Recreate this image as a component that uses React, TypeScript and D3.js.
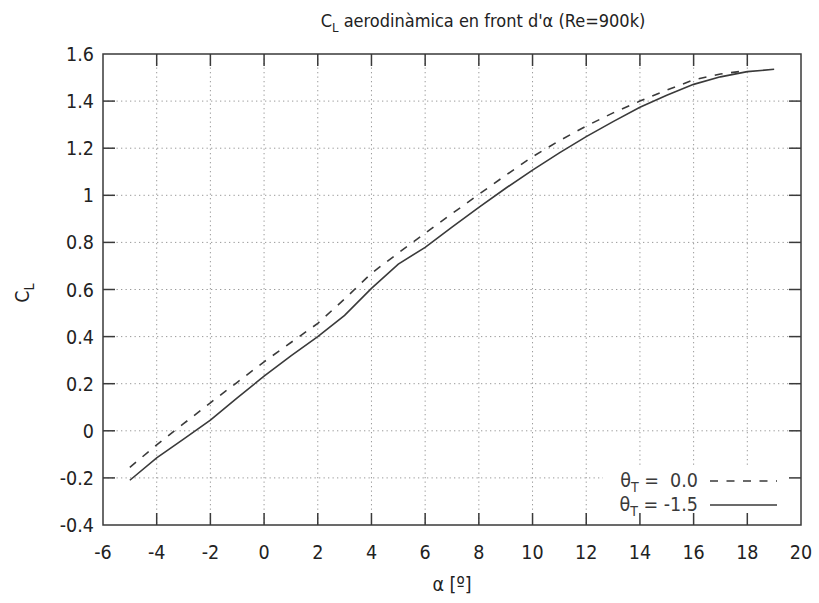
import React from "react";
import * as d3 from "d3";

const alphaSolid = [-5, -4, -3, -2, -1, 0, 1, 2, 3, 4, 5, 6, 7, 8, 9, 10, 11, 12, 13, 14, 15, 16, 17, 18, 19];
const clSolid = [-0.21, -0.115, -0.035, 0.045, 0.14, 0.232, 0.318, 0.4, 0.49, 0.605, 0.708, 0.779, 0.865, 0.949, 1.03, 1.107, 1.18, 1.249, 1.313, 1.374, 1.425, 1.471, 1.503, 1.525, 1.535];
const alphaDashed = [-5, -4, -3, -2, -1, 0, 1, 2, 3, 4, 5, 6, 7, 8, 9, 10, 11, 12, 13, 14, 15, 16, 17, 18];
const clDashed = [-0.155, -0.06, 0.03, 0.119, 0.206, 0.293, 0.375, 0.456, 0.56, 0.669, 0.755, 0.839, 0.922, 1.004, 1.085, 1.164, 1.232, 1.294, 1.35, 1.4, 1.447, 1.49, 1.515, 1.53];
const xTicks = [-6, -4, -2, 0, 2, 4, 6, 8, 10, 12, 14, 16, 18, 20];
const yTicks = [-0.4, -0.2, 0, 0.2, 0.4, 0.6, 0.8, 1, 1.2, 1.4, 1.6];
const seriesLabels = ["0.0", "-1.5"];

const W = 819, H = 603;
const L = 103, R = 801, T = 54, B = 525;
const FONT = "'DejaVu Sans Condensed', 'DejaVu Sans', sans-serif";
const INK = "#3a3a3a";
const FS = 19.5;

export default function App() {
  const x = d3.scaleLinear().domain([-6, 20]).range([L, R]);
  const y = d3.scaleLinear().domain([-0.4, 1.6]).range([B, T]);
  const line = d3.line<[number, number]>().x(d => x(d[0])).y(d => y(d[1]));
  const solidPts = alphaSolid.map((a, i) => [a, clSolid[i]] as [number, number]);
  const dashedPts = alphaDashed.map((a, i) => [a, clDashed[i]] as [number, number]);
  const tickLen = 12;
  const fmt = (v: number) => (Math.abs(v) < 1e-9 ? "0" : String(+v.toFixed(1)));

  return (
    <svg width={W} height={H} style={{ position: "absolute", left: 0, top: 0, background: "#fff" }} fontFamily={FONT} fontStretch="condensed">
      <rect x={0} y={0} width={W} height={H} fill="#fff" />
      {/* grid */}
      {xTicks.slice(1, -1).map(t => (
        <line key={"gx" + t} x1={x(t)} x2={x(t)} y1={T} y2={B} stroke="#999" strokeWidth={1} strokeDasharray="1.3,3.2" />
      ))}
      {yTicks.slice(1, -1).map(t => (
        <line key={"gy" + t} x1={L} x2={R} y1={y(t)} y2={y(t)} stroke="#999" strokeWidth={1} strokeDasharray="1.3,3.2" />
      ))}
      {/* curves */}
      <path d={line(dashedPts) || ""} fill="none" stroke={INK} strokeWidth={1.6} strokeDasharray="8,8.5" />
      <path d={line(solidPts) || ""} fill="none" stroke={INK} strokeWidth={1.6} />
      {/* key background */}
      <rect x={603} y={466} width={R - 603} height={B - 466} fill="#fff" />
      {/* key */}
      <g fontSize={FS} fill={INK}>
        {seriesLabels.map((s, i) => (
          <g key={s}>
            <text x={698} y={487 + i * 24} textAnchor="end" xmlSpace="preserve">
              θ<tspan fontSize={14} dy={5}>T</tspan><tspan dy={-5}>{i === 0 ? " =  " + s : " = " + s}</tspan>
            </text>
            <line x1={710} x2={777} y1={481 + i * 24} y2={481 + i * 24} stroke={INK} strokeWidth={1.6} strokeDasharray={i === 0 ? "8,8.5" : undefined} />
          </g>
        ))}
      </g>
      {/* ticks */}
      {xTicks.slice(1, -1).map(t => (
        <g key={"tx" + t}>
          <line x1={x(t)} x2={x(t)} y1={B} y2={B - tickLen} stroke={INK} strokeWidth={1.5} />
          <line x1={x(t)} x2={x(t)} y1={T} y2={T + tickLen} stroke={INK} strokeWidth={1.5} />
        </g>
      ))}
      {yTicks.slice(1, -1).map(t => (
        <g key={"ty" + t}>
          <line x1={L} x2={L + tickLen} y1={y(t)} y2={y(t)} stroke={INK} strokeWidth={1.5} />
          <line x1={R} x2={R - tickLen} y1={y(t)} y2={y(t)} stroke={INK} strokeWidth={1.5} />
        </g>
      ))}
      {/* border */}
      <rect x={L} y={T} width={R - L} height={B - T} fill="none" stroke={INK} strokeWidth={1.5} />
      {/* tick labels */}
      <g fontSize={FS} fill="#222">
        {xTicks.map(t => (
          <text key={"lx" + t} x={x(t)} y={559} textAnchor="middle">{fmt(t)}</text>
        ))}
        {yTicks.map(t => (
          <text key={"ly" + t} x={94} y={y(t) + 7} textAnchor="end">{fmt(t)}</text>
        ))}
      </g>
      {/* axis labels */}
      <text x={452} y={591} textAnchor="middle" fontSize={FS} fill="#222">α [º]</text>
      <g transform="translate(29,293) rotate(-90)">
        <text x={0} y={0} textAnchor="middle" fontSize={FS} fill="#222">C<tspan fontSize={14} dy={5}>L</tspan></text>
      </g>
      {/* title */}
      <text x={483} y={27} textAnchor="middle" fontSize={18} fill="#222">
        C<tspan fontSize={13} dy={5}>L</tspan><tspan dy={-5}> aerodinàmica en front d'α (Re=900k)</tspan>
      </text>
    </svg>
  );
}
